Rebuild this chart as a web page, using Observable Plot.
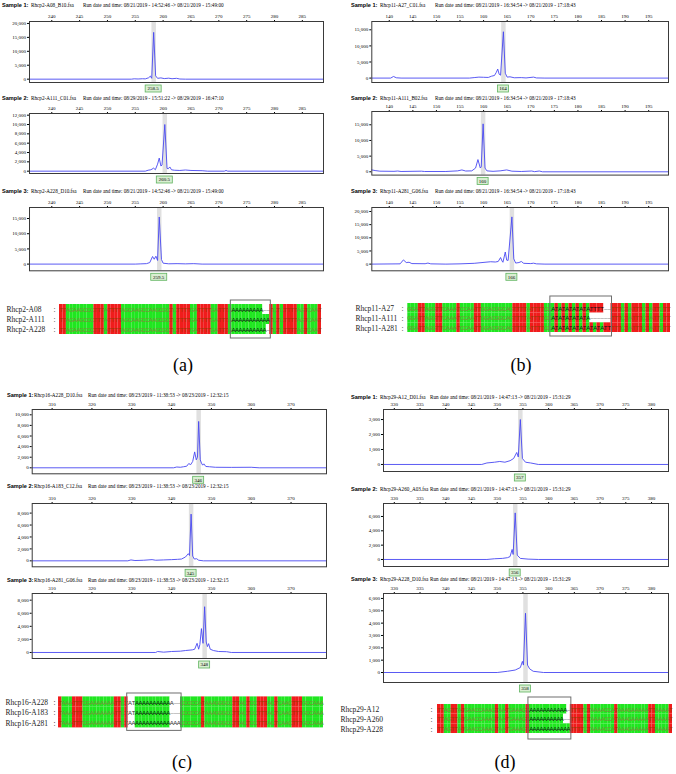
<!DOCTYPE html>
<html><head><meta charset="utf-8">
<script src="https://cdn.jsdelivr.net/npm/d3@7"></script>
<script src="https://cdn.jsdelivr.net/npm/@observablehq/plot@0.6"></script>
<style>
body{margin:0;background:#fff;}
#fig{position:relative;width:676px;height:774px;overflow:hidden;background:#fff;}
.abs{position:absolute;}
.title{font-family:"Liberation Serif";font-size:5.2px;white-space:nowrap;color:#000;line-height:1;}
.sb{font-family:"Liberation Sans";font-weight:bold;font-size:5.6px;}
.plab{font-family:"Liberation Serif";font-size:18px;line-height:1;}
</style></head><body><div id="fig"></div>
<script>
// ---------------- DATA ----------------
const panelLabels = ["(a)", "(b)", "(c)", "(d)"];
const sampleTags = ["Sample 1:", "Sample 2:", "Sample 3:"];

// Panel (a) Rhcp2
const aFiles = ["Rhcp2-A08_B10.fsa", "Rhcp2-A111_C01.fsa", "Rhcp2-A228_D10.fsa"];
const aRuns = ["Run date and time: 08/21/2019 - 14:52:46 -> 08/21/2019 - 15:49:00",
               "Run date and time: 08/29/2019 - 15:51:22 -> 08/29/2019 - 16:47:10",
               "Run date and time: 08/21/2019 - 14:52:46 -> 08/21/2019 - 15:49:00"];
const aSizeTicks = [240, 245, 250, 255, 260, 265, 270, 275, 280, 285];
const aRfuTicks = [[0, 5000, 10000, 15000, 20000], [0, 2000, 4000, 6000, 8000, 10000, 12000], [0, 5000, 10000, 15000]];
const aCalls = ["258.5", "260.5", "259.5"];
const aPeakAt = [258.3, 260.3, 259.3];
const aTrace1 = [[236,0],[254.3,0],[254.8,120],[255.5,60],[256.3,150],[256.8,100],[257.4,500],[257.7,1100],[257.95,300],[258.3,16800],[258.65,1200],[259.0,300],[259.6,450],[260.2,200],[261.0,350],[261.6,150],[262.4,300],[263.0,50],[264,0],[288.8,0]];
const aTrace2 = [[236,0],[256.8,0],[257.3,200],[257.8,300],[258.3,650],[258.6,300],[259.0,1500],[259.3,2800],[259.6,1100],[259.8,1300],[260.3,10000],[260.7,600],[260.9,500],[261.2,900],[261.5,300],[262,200],[263,150],[264,250],[265,150],[267,100],[268,0],[271,0],[271.3,150],[271.6,0],[288.8,0]];
const aTrace3 = [[236,0],[255,0],[256,80],[257,150],[257.6,500],[258.1,2500],[258.4,1600],[258.7,2600],[259.0,1200],[259.3,15500],[259.7,1500],[260.0,300],[261,100],[262.5,150],[264,80],[265.5,150],[267,0],[288.8,0]];
const aNames = ["Rhcp2-A08", "Rhcp2-A111", "Rhcp2-A228"];
const aSeqs = ["TTAGAAGCCCTTTATTTTAGCAAGCCAAGCGCTCTTTTGATTTTGATTTGAAAAAAAAA--TCTCTTTTAGTCAAT",
               "TTAGAAGCCCTTTATTTTAGCAAGCCAAGCGCTCTTTTGATTTTGATTTGAAAAAAAAAAATCTCTTTTAGTCAAT",
               "TTAGAAGCCCTTTATTTTAGCAAGCCAAGCGCTCTTTTGATTTTGATTTGAAAAAAAAAA-TCTCTTTTAGTCAAT"];
const aBox = [50, 61];

// Panel (b) Rhcp11
const bFiles = ["Rhcp11-A27_C01.fsa", "Rhcp11-A111_B02.fsa", "Rhcp11-A281_G06.fsa"];
const bRuns = ["Run date and time: 08/21/2019 - 16:34:54 -> 08/21/2019 - 17:18:43",
               "Run date and time: 08/21/2019 - 16:34:54 -> 08/21/2019 - 17:18:43",
               "Run date and time: 08/21/2019 - 16:34:54 -> 08/21/2019 - 17:18:43"];
const bSizeTicks = [140, 145, 150, 155, 160, 165, 170, 175, 180, 185, 190, 195];
const bRfuTicks = [[0, 5000, 10000, 15000], [0, 5000, 10000, 15000], [0, 5000, 10000, 15000, 20000]];
const bCalls = ["164", "160", "166"];
const bPeakAt = [164.2, 159.9, 166.0];
const bTrace1 = [[136.3,0],[140.3,0],[140.9,500],[141.5,100],[142.5,0],[157,0],[158,150],[159,300],[160,250],[161,200],[161.7,600],[162.3,800],[162.7,1800],[163.0,2800],[163.3,1200],[163.6,900],[164.2,14400],[164.6,1500],[165.0,300],[165.6,400],[166.5,100],[168,150],[169,50],[170.6,300],[171.2,50],[173,0],[199.2,0]];
const bTrace2 = [[136.3,600],[137,400],[138,200],[141,150],[141.8,250],[142.5,100],[146.8,200],[147.5,100],[152,100],[154.5,300],[155.4,600],[156.2,250],[157.5,300],[158.3,1200],[158.8,3900],[159.3,1200],[159.5,1600],[159.9,15300],[160.3,1200],[160.7,300],[162,150],[163.5,300],[164.9,600],[166,200],[168,100],[170.2,250],[170.8,50],[171.8,250],[172.5,0],[199.2,0]];
const bTrace3 = [[136.3,0],[142.3,100],[143.0,1600],[143.6,600],[144.2,700],[144.8,200],[147.6,150],[148.2,400],[148.8,100],[152,0],[155,100],[158,300],[160.3,700],[161.5,900],[162.5,800],[163.1,1000],[163.6,2500],[163.9,1200],[164.1,700],[164.6,4600],[164.9,1500],[165.2,1400],[166.0,17950],[166.4,2000],[166.8,400],[167.5,600],[168.0,1000],[168.5,300],[170.0,200],[170.6,350],[171.2,100],[173,0],[199.2,0]];
const bNames = ["Rhcp11-A27", "Rhcp11-A111", "Rhcp11-A281"];
const bSeqs = ["GGATTAGGTTCAAATCCAATTGGACGGCAGTTTTATTTTCCATATATATATATTTT--TTTCTATTTCTATTGTT",
               "GGATTAGGTTCAAATCCAATTGGACGGCAGTTTTATTTTCCATATATATATA------TTTCTATTTCTATTGTT",
               "GGATTAGGTTCAAATCCAATTGGACGGCAGTTTTATTTTCCATATATATATATATATTTTTCTATTTCTATTGTT"];
const bBox = [41, 58];

// Panel (c) Rhcp16
const cFiles = ["Rhcp16-A228_D10.fsa", "Rhcp16-A183_C12.fsa", "Rhcp16-A281_G06.fsa"];
const cRuns = ["Run date and time: 08/23/2019 - 11:38:53 -> 08/23/2019 - 12:32:15",
               "Run date and time: 08/23/2019 - 11:38:53 -> 08/23/2019 - 12:32:15",
               "Run date and time: 08/23/2019 - 11:38:53 -> 08/23/2019 - 12:32:15"];
const cSizeTicks = [310, 320, 330, 340, 350, 360, 370];
const cRfuTicks = [[0, 2000, 4000, 6000, 8000, 10000], [0, 2000, 4000, 6000, 8000], [0, 2000, 4000, 6000, 8000]];
const cCalls = ["346", "345", "348"];
const cPeakAt = [346.8, 344.9, 348.3];
const cTrace1 = [[305,0],[340.5,0],[341.3,150],[342.2,100],[343,200],[343.8,300],[344.3,800],[344.8,600],[345.3,1200],[345.8,3000],[346.2,1500],[346.5,2000],[346.8,8750],[347.2,1500],[347.5,900],[347.8,500],[348.1,750],[348.6,250],[349.5,200],[351,100],[355,80],[360,100],[362,0],[378.9,0]];
const cTrace2 = [[305,0],[329,0],[329.8,150],[330.8,50],[333,100],[335.1,200],[336,100],[338,150],[340,200],[341.5,250],[342.5,300],[343.5,650],[344.2,1200],[344.5,900],[344.9,7830],[345.3,800],[345.7,300],[346.3,350],[346.8,100],[348,0],[378.9,0]];
const cTrace3 = [[305,0],[336,0],[336.5,150],[338,50],[340,150],[342.2,200],[343.5,300],[345.2,400],[345.8,500],[346.4,1400],[346.8,500],[347.1,1200],[347.5,3650],[347.9,1400],[348.3,7000],[348.7,1600],[349.0,900],[349.3,1350],[349.7,500],[350.5,300],[351.8,150],[353.8,120],[355,0],[378.9,0]];
const cNames = ["Rhcp16-A228", "Rhcp16-A183", "Rhcp16-A281"];
const cSeqs = ["TAAATTTCGAAAAAAATTCTatAAAAAAAAAAa--CCCCCATAAAGGGCCTTACTCCTTTACTCAACTTTGCCAAA",
               "TAAATTTCGAAAAAAATTCTatAAAAAAAAAA---CCCCCATAAAGGGCCTTACTCCTTTACTCAACTTTGCCAAA",
               "TAAATTTCGAAAAAAATTCTaaAAAAAAAAAAaaaCCCCCATAAAGGGCCTTACTCCTTTACTCAACTTTGCCAAA"];
const cBox = [20, 35];

// Panel (d) Rhcp29
const dFiles = ["Rhcp29-A12_D01.fsa", "Rhcp29-A260_A03.fsa", "Rhcp29-A228_D10.fsa"];
const dRuns = ["Run date and time: 08/21/2019 - 14:47:13 -> 08/21/2019 - 15:31:29",
               "Run date and time: 08/21/2019 - 14:47:13 -> 08/21/2019 - 15:31:29",
               "Run date and time: 08/21/2019 - 14:47:13 -> 08/21/2019 - 15:31:29"];
const dSizeTicks = [330, 335, 340, 345, 350, 355, 360, 365, 370, 375, 380];
const dRfuTicks = [[0, 1000, 2000, 3000], [0, 2000, 4000, 6000], [0, 1000, 2000, 3000, 4000, 5000, 6000]];
const dCalls = ["357", "356", "358"];
const dPeakAt = [354.5, 353.5, 355.5];
const dTrace1 = [[327.9,0],[347,0],[348,100],[349.5,150],[350.5,200],[351.5,150],[352.5,250],[353.2,400],[353.8,800],[354.1,500],[354.5,3000],[354.9,400],[355.5,150],[356.5,100],[358,0],[383.3,0]];
const dTrace2 = [[327.9,0],[348,0],[349.5,100],[351,150],[352,250],[352.5,400],[352.9,1400],[353.1,700],[353.5,6500],[353.9,600],[354.5,150],[356,50],[358,0],[383.3,0]];
const dTrace3 = [[327.9,0],[350,0],[352,100],[353.5,200],[354.5,400],[354.9,900],[355.1,600],[355.5,4800],[355.9,600],[356.3,300],[357,100],[359,0],[383.3,0]];
const dNames = ["Rhcp29-A12", "Rhcp29-A260", "Rhcp29-A228"];
const dSeqs = ["TTAGTTATGAACCAAAGTAATGAAAGTAAAAAAAAAAA-TTTTCTAAAACCATAAAGAAAAATTAAAAT",
               "TTAGTTATGAACCAAAGTAATGAAAGTAAAAAAAAAA--TTTTCTAAAACCATAAAGAAAAATTAAAAT",
               "TTAGTTATGAACCAAAGTAATGAAAGTAAAAAAAAAAAATTTTCTAAAACCATAAAGAAAAATTAAAAT"];
const dBox = [27, 39];

// ---------------- LAYOUT ----------------
const W = 338;
const fig = document.getElementById("fig");
const panels = [
  {px: 0, files: aFiles, runs: aRuns, sizeTicks: aSizeTicks, rfuTicks: aRfuTicks, calls: aCalls, peakAt: aPeakAt,
   traces: [aTrace1, aTrace2, aTrace3], xDomain: [236, 288.8], left: 29, right: 323, tx: [2, 31, 83],
   rows: [{ty: 6, top: 20.7, bottom: 81.7, yd: [-1200, 20700]}, {ty: 99, top: 113.3, bottom: 173.3, yd: [-500, 12360]}, {ty: 192, top: 206.7, bottom: 270, yd: [-2200, 18620]}],
   names: aNames, seqs: aSeqs, box: aBox,
   al: {left: 59, right: 321, top: 304, bottom: 334, boxTop: 300, boxBottom: 338, nameX: 6, colonX: 53},
   lab: {x: 183, y: 365}},
  {px: 338, files: bFiles, runs: bRuns, sizeTicks: bSizeTicks, rfuTicks: bRfuTicks, calls: bCalls, peakAt: bPeakAt,
   traces: [bTrace1, bTrace2, bTrace3], xDomain: [136.3, 199.2], left: 33.3, right: 330, tx: [13, 42, 97],
   rows: [{ty: 6, top: 20.7, bottom: 81.7, yd: [-1370, 17580]}, {ty: 99, top: 110.7, bottom: 174.3, yd: [-1050, 19240]}, {ty: 192, top: 206.7, bottom: 270, yd: [-2540, 21520]}],
   names: bNames, seqs: bSeqs, box: bBox,
   al: {left: 69.3, right: 332, top: 303, bottom: 332, boxTop: 296, boxBottom: 336, nameX: 17, colonX: 63},
   lab: {x: 521, y: 365}},
  {px: 0, files: cFiles, runs: cRuns, sizeTicks: cSizeTicks, rfuTicks: cRfuTicks, calls: cCalls, peakAt: cPeakAt,
   traces: [cTrace1, cTrace2, cTrace3], xDomain: [305, 378.9], left: 31.7, right: 326, tx: [7, 34, 88],
   rows: [{ty: 396, top: 409, bottom: 473.3, yd: [-1130, 11000]}, {ty: 486.7, top: 502.7, bottom: 566, yd: [-1000, 9610]}, {ty: 581, top: 593.3, bottom: 658.3, yd: [-920, 9020]}],
   names: cNames, seqs: cSeqs, box: cBox,
   al: {left: 58, right: 323, top: 696.7, bottom: 727.7, boxTop: 693.3, boxBottom: 730.7, nameX: 5, colonX: 53},
   lab: {x: 182, y: 762}},
  {px: 338, files: dFiles, runs: dRuns, sizeTicks: dSizeTicks, rfuTicks: dRfuTicks, calls: dCalls, peakAt: dPeakAt,
   traces: [dTrace1, dTrace2, dTrace3], xDomain: [327.9, 383.3], left: 45, right: 330, tx: [13, 42, 92],
   rows: [{ty: 398, top: 409, bottom: 471, yd: [-470, 3670]}, {ty: 490, top: 503, bottom: 566, yd: [-980, 7810]}, {ty: 580, top: 593, bottom: 682, yd: [-810, 6400]}],
   names: dNames, seqs: dSeqs, box: dBox,
   al: {left: 99, right: 334, top: 704, bottom: 733, boxTop: 697, boxBottom: 739, nameX: 2, colonX: 92},
   lab: {x: 505, y: 762}}
];

const NS = "http://www.w3.org/2000/svg";
function callBox(pos, label) {
  return (index, scales, values, dims) => {
    const g = document.createElementNS(NS, "g");
    const cx = scales.x(pos);
    const w = label.length * 2.5 + 3.5, h = 7;
    const y0 = dims.height - dims.marginBottom + 3;
    const r = document.createElementNS(NS, "rect");
    r.setAttribute("x", cx - w / 2); r.setAttribute("y", y0);
    r.setAttribute("width", w); r.setAttribute("height", h);
    r.setAttribute("fill", "#d9eed2"); r.setAttribute("stroke", "#5fb35f"); r.setAttribute("stroke-width", "0.8");
    const t = document.createElementNS(NS, "text");
    t.setAttribute("x", cx); t.setAttribute("y", y0 + 5.4);
    t.setAttribute("text-anchor", "middle"); t.setAttribute("font-size", "5px");
    t.setAttribute("fill", "#000");
    t.textContent = label;
    g.append(r, t);
    return g;
  };
}

function place(el, x, y) {
  el.style.position = "absolute"; el.style.left = x + "px"; el.style.top = y + "px";
  fig.appendChild(el);
}

const MT = 12, MB = 13;
for (const p of panels) {
  p.rows.forEach((row, i) => {
    const tl = document.createElement("div");
    tl.className = "title";
    tl.style.width = W + "px"; tl.style.height = "7px";
    const parts = [[sampleTags[i], p.tx[0], "sb"], [p.files[i], p.tx[1], ""], [p.runs[i], p.tx[2], ""]];
    for (const [txt, x, cls] of parts) {
      const s = document.createElement("span");
      s.textContent = txt; s.className = cls;
      s.style.position = "absolute"; s.style.left = x + "px"; s.style.top = "0px";
      tl.appendChild(s);
    }
    place(tl, p.px, row.ty - 3);

    const fh = row.bottom - row.top;
    const chart = Plot.plot({
      width: W, height: fh + MT + MB,
      marginLeft: p.left, marginRight: W - p.right, marginTop: MT, marginBottom: MB,
      style: {fontFamily: "Liberation Serif", fontSize: "5px", background: "transparent", overflow: "visible"},
      x: {domain: p.xDomain, axis: "top", ticks: p.sizeTicks, tickSize: 2, tickPadding: 1.5, label: null},
      y: {domain: row.yd, ticks: p.rfuTicks[i], tickFormat: d3.format(","), tickSize: 2, tickPadding: 1.5, label: null},
      marks: [
        Plot.ruleX([p.peakAt[i]], {stroke: "#e0e0e0", strokeWidth: 4.5}),
        Plot.line(p.traces[i], {x: d => d[0], y: d => d[1], stroke: "#4747f2", strokeWidth: 0.9}),
        Plot.frame({stroke: "#3a3a3a", strokeWidth: 1}),
        callBox(p.peakAt[i], p.calls[i])
      ]
    });
    place(chart, p.px, row.top - MT);
  });

  const a = p.al;
  const sTop = a.boxTop - 2, sBottom = a.boxBottom + 2;
  const rowH = (a.bottom - a.top) / 3;
  const n = p.seqs[0].length;
  const cells = [];
  p.seqs.forEach((s, r) => [...s].forEach((ch, c) => cells.push({r, c, ch})));
  const inBox = d => d.c >= p.box[0] && d.c < p.box[1];
  const bg = d => d.ch === "-" || d.ch !== d.ch.toUpperCase() ? "#ffffff" : d.ch === "T" ? "#f01c1c" : "#20e620";
  const fg = d => d.ch === "-" ? "#666" : (d.ch !== d.ch.toUpperCase() ? "#333" : inBox(d) ? "#111" : d.ch === "T" ? "#9c3a00" : "#7d8a3c");
  const al = Plot.plot({
    width: W, height: sBottom - sTop,
    marginLeft: a.left, marginRight: W - a.right, marginTop: a.top - sTop, marginBottom: sBottom - a.bottom,
    style: {fontFamily: "Liberation Serif", background: "transparent", overflow: "visible"},
    x: {domain: [0, n], axis: null},
    y: {domain: [3, 0], axis: null},
    marks: [
      Plot.rect(cells, {x1: "c", x2: d => d.c + 1, y1: "r", y2: d => d.r + 1, fill: bg, inset: 0}),
      Plot.text(cells, {x: d => d.c + 0.5, y: d => d.r + 0.55, text: d => d.ch === "-" ? "–" : d.ch.toUpperCase(), fill: fg, fontSize: 6, fontFamily: "Liberation Sans Narrow, Liberation Sans"}),
      Plot.rect([p.box], {x1: b => b[0] - 0.3, x2: b => b[1] + 0.3, y1: (a.boxTop - a.top) / rowH, y2: 3 + (a.boxBottom - a.bottom) / rowH, fill: "none", stroke: "#6e6e6e", strokeWidth: 1}),
      Plot.text(p.names, {x: 0, y: (d, i) => i + 0.55, text: d => d, textAnchor: "start", dx: a.nameX - a.left, fontSize: 7.5, fill: "#222"}),
      Plot.text(p.names, {x: 0, y: (d, i) => i + 0.55, text: () => ":", textAnchor: "start", dx: a.colonX - a.left, fontSize: 7.5, fill: "#222"})
    ]
  });
  place(al, p.px, sTop);

  const lab = document.createElement("div");
  lab.className = "plab"; lab.textContent = panelLabels[panels.indexOf(p)];
  lab.style.transform = "translate(-50%,-50%)";
  place(lab, p.lab.x, p.lab.y);
}
</script></body></html>
